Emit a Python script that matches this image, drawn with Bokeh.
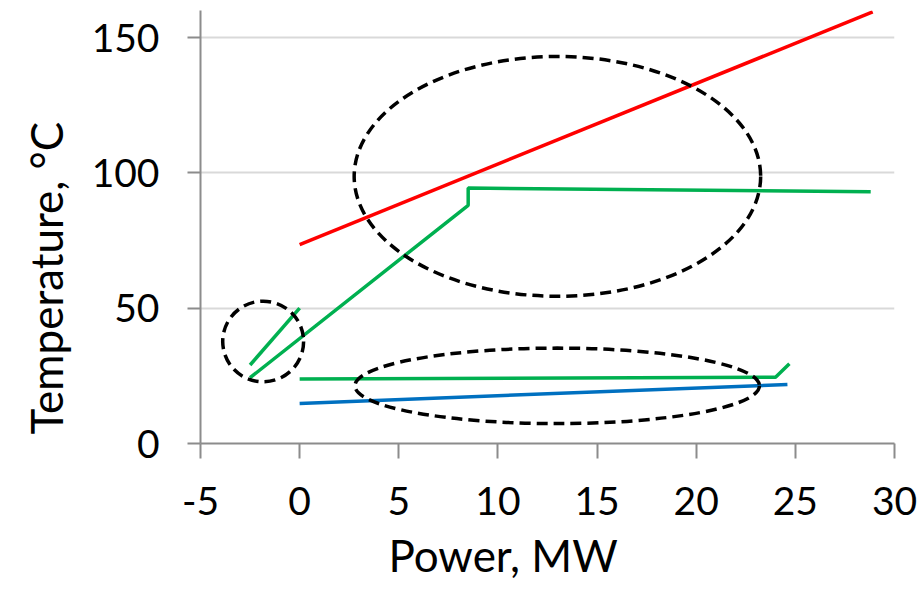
from bokeh.plotting import figure
from bokeh.models import Range1d, FixedTicker, Title
from bokeh.embed import file_html
from bokeh.resources import INLINE

# ---- data ----
red_x = [0.0, 28.9]
red_y = [73.5, 159.5]

green_main_x = [-2.5, 8.5, 8.5, 28.8]
green_main_y = [24.3, 88.0, 94.4, 93.0]

green_short_x = [-2.5, 0.0]
green_short_y = [29.0, 50.0]

green_low_x = [0.0, 24.0, 24.7]
green_low_y = [23.8, 24.5, 29.5]

blue_x = [0.0, 24.6]
blue_y = [14.8, 21.8]

x_ticks = [-5, 0, 5, 10, 15, 20, 25, 30]
x_tick_labels = ["-5", "0", "5", "10", "15", "20", "25", "30"]
y_ticks = [0, 50, 100, 150]

# dashed highlight ellipses: centre x, centre y, width, height (data units)
ell_x = [13.0, -1.84, 12.99]
ell_y = [98.7, 37.7, 21.3]
ell_w = [20.5, 4.08, 20.4]
ell_h = [88.6, 29.8, 27.9]

FONT = "Lato"

p = figure(width=918, height=590, x_range=Range1d(-5, 30), y_range=Range1d(0, 160),
           output_backend="svg", toolbar_location=None,
           min_border_left=199, min_border_right=24, min_border_top=10, min_border_bottom=146)
p.outline_line_color = None
p.background_fill_color = "white"
p.border_fill_color = "white"

p.xaxis.ticker = FixedTicker(ticks=x_ticks)
p.xaxis.major_label_overrides = {t: s for t, s in zip(x_ticks, x_tick_labels)}
p.yaxis.ticker = FixedTicker(ticks=y_ticks)
p.xgrid.visible = False
p.ygrid.grid_line_color = "#d9d9d9"
p.ygrid.grid_line_width = 2

for ax in (p.xaxis, p.yaxis):
    ax.axis_line_color = "#8c8c8c"
    ax.axis_line_width = 2
    ax.major_tick_line_color = "#8c8c8c"
    ax.major_tick_line_width = 2
    ax.major_tick_in = 0
    ax.minor_tick_line_color = None
    ax.major_label_text_font = FONT
    ax.major_label_text_font_size = "39px"
    ax.major_label_text_color = "#000000"

p.xaxis.major_tick_out = 15
p.yaxis.major_tick_out = 13
p.xaxis.major_label_standoff = 28
p.yaxis.major_label_standoff = 28

# lines
LW = 3.5
p.line(red_x, red_y, line_color="#ff0000", line_width=LW)
p.line(green_main_x, green_main_y, line_color="#00b050", line_width=LW)
p.line(green_short_x, green_short_y, line_color="#00b050", line_width=LW)
p.line(green_low_x, green_low_y, line_color="#00b050", line_width=LW)
p.line(blue_x, blue_y, line_color="#0070c0", line_width=LW)

# dashed ellipses
p.ellipse(x=ell_x, y=ell_y, width=ell_w, height=ell_h, fill_color=None,
          line_color="black", line_width=3.5, line_dash="11 6")

# axis titles (placed as side titles so they can sit off-centre like the reference)
xt = Title(text="Power, MW", align="left", offset=188, standoff=19,
           text_font=FONT, text_font_size="44px", text_font_style="normal",
           text_color="#000000", text_line_height=0.55)
p.add_layout(xt, "below")
yt = Title(text="Temperature, °C", align="left", offset=9, standoff=34,
           text_font=FONT, text_font_size="44px", text_font_style="normal",
           text_color="#000000")
p.add_layout(yt, "left")

open("out.html", "w").write(file_html(p, INLINE))
